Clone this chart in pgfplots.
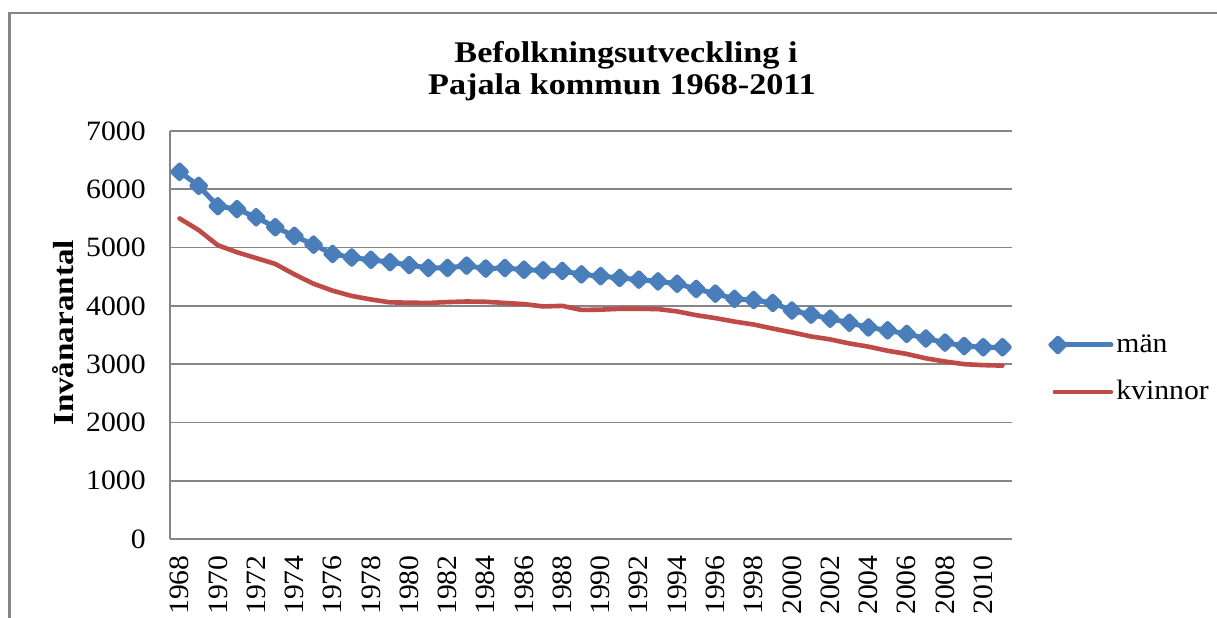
\documentclass[border=0pt]{standalone}
\usepackage{fontspec}
\setmainfont{Liberation Serif}[FakeStretch=1.06]
\newfontfamily\widebold{Liberation Serif}[FakeStretch=1.14]
\usepackage{pgfplots}
\usepackage{pgfplotstable}
\pgfplotsset{compat=1.18}
\definecolor{mblue}{HTML}{4A7EBB}
\definecolor{kred}{HTML}{BE4B48}
\definecolor{gridgray}{HTML}{868686}

\pgfplotsset{
  manlegend/.style={legend image code/.code={\draw[##1, mark=none] (0pt,0pt) -- (30pt,0pt); \draw[##1, only marks] plot coordinates {(3.5pt,0pt)};}},
  kvlegend/.style={legend image code/.code={\draw[##1] (2pt,0pt) -- (30pt,0pt);}},
}

\pgfplotstableread{
year man kvinnor
1968 6300 5500
1969 6060 5300
1970 5710 5040
1971 5660 4920
1972 5520 4820
1973 5350 4720
1974 5200 4540
1975 5050 4380
1976 4890 4260
1977 4830 4170
1978 4790 4110
1979 4750 4060
1980 4700 4055
1981 4650 4050
1982 4650 4065
1983 4690 4075
1984 4640 4070
1985 4650 4050
1986 4620 4030
1987 4610 3990
1988 4600 4000
1989 4540 3930
1990 4510 3935
1991 4480 3950
1992 4450 3950
1993 4420 3945
1994 4380 3905
1995 4290 3840
1996 4210 3790
1997 4120 3730
1998 4100 3680
1999 4050 3610
2000 3920 3545
2001 3850 3475
2002 3780 3425
2003 3710 3355
2004 3630 3300
2005 3580 3230
2006 3520 3175
2007 3440 3100
2008 3370 3045
2009 3310 3000
2010 3290 2983
2011 3290 2975
}\popdata

\begin{document}
\begin{tikzpicture}
\useasboundingbox (0pt,0pt) rectangle (608.5pt,-308.5pt);
\clip (0pt,0pt) rectangle (608.5pt,-308.5pt);
\fill[white] (0pt,0pt) rectangle (608.5pt,-308.5pt);
\begin{scope}[x=0.5pt,y=-0.5pt]
\draw[gridgray, line width=1.1pt] (9.5,700) -- (9.5,13) -- (1400,13);
\node[font=\widebold\bfseries\fontsize{15}{18}\selectfont, anchor=base, inner sep=0pt] at (626,62.5) {Befolkningsutveckling i};
\node[font=\widebold\bfseries\fontsize{15}{18}\selectfont, anchor=base, inner sep=0pt] at (622,94) {Pajala kommun 1968-2011};
\node[font=\widebold\bfseries\fontsize{14.5}{17}\selectfont, rotate=90, inner sep=0pt] at (63,333) {Invånarantal};
\end{scope}
\begin{axis}[
  scale only axis, width=421pt, height=204pt,
  at={(85pt,-269.5pt)}, anchor=south west,
  xmin=1967.5, xmax=2011.5, ymin=0, ymax=7000,
  xtick={1968,1970,...,2010}, ytick={0,1000,...,7000},
  major tick length=0pt,
  axis lines*=left,
  axis line style={-, draw=gridgray, line width=0.8pt},
  ymajorgrids, grid style={gridgray, line width=0.8pt},
  /pgf/number format/1000 sep={},
  /pgf/number format/assume math mode=true,
  xticklabel shift=8pt,
  yticklabel shift=12pt,
  xticklabel style={rotate=90, anchor=east, inner sep=0pt, font=\fontsize{14}{16}\selectfont},
  yticklabel style={anchor=east, inner sep=0pt, font=\fontsize{14}{16}\selectfont},
  legend style={draw=none, fill=none, at={(1.0428,0.418)}, anchor=west, inner sep=0pt,
    row sep=11.5pt, column sep=1.5pt,
    nodes={inner sep=0pt, text height=10pt, text depth=2pt, font=\fontsize{14}{16}\selectfont}},
  legend cell align=left,
]
\addplot[mblue, line width=2.5pt, line join=round, line cap=round,
  mark=square*, mark size=2.4pt, mark options={rotate=45, draw=none, fill=mblue}, manlegend]
  table[x=year, y=man] {\popdata};
\addlegendentry{män}
\addplot[kred, line width=2.3pt, line join=round, line cap=round, kvlegend]
  table[x=year, y=kvinnor] {\popdata};
\addlegendentry{kvinnor}
\end{axis}
\end{tikzpicture}
\end{document}
